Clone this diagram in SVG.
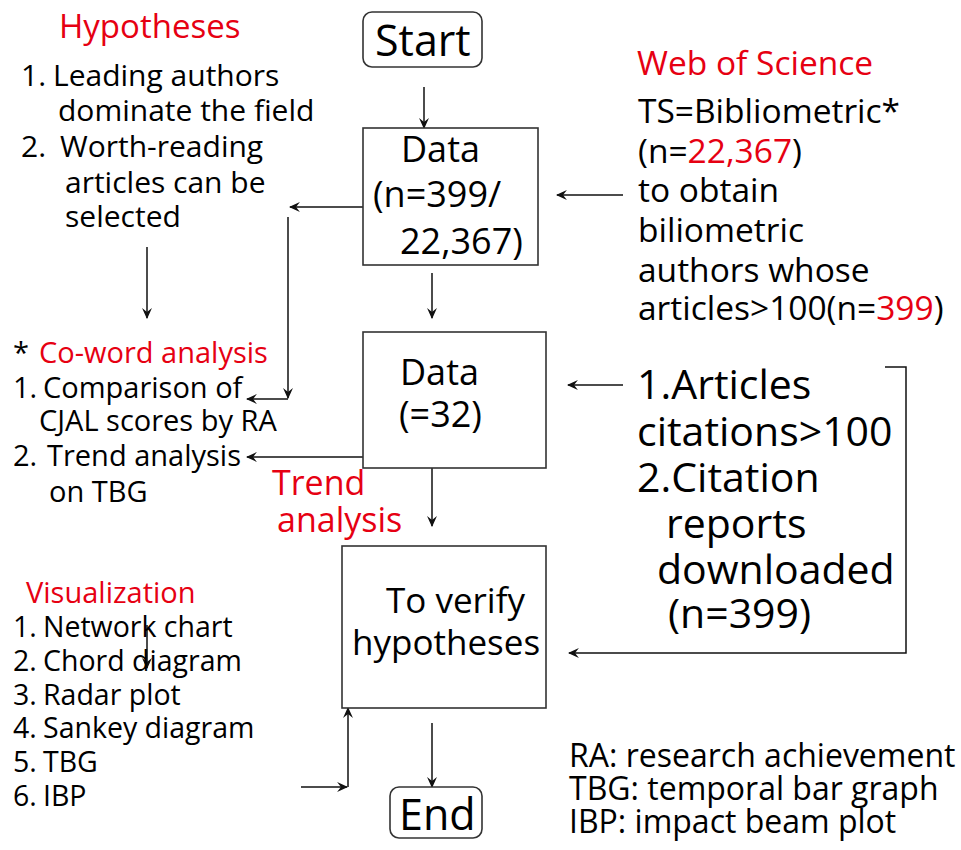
<svg xmlns="http://www.w3.org/2000/svg" width="961" height="850" viewBox="0 0 961 850">
<defs>
<style>
text{font-family:"Open Sans","Noto Sans","DejaVu Sans",sans-serif;fill:#000}
.red{fill:#e60012}
.box{fill:#fff;stroke:#333;stroke-width:1.6}
.ln{fill:none;stroke:#111;stroke-width:1.5}
.arr{marker-end:url(#ah)}
</style>
<marker id="ah" viewBox="0 0 10 10" refX="9" refY="5" markerWidth="11" markerHeight="11" markerUnits="userSpaceOnUse" orient="auto">
<path d="M0,0.5 L10,5 L0,9.5 L3.5,5 z" fill="#111"/>
</marker>
</defs>
<rect width="961" height="850" fill="#fff"/>

<g id="connectors">
<path class="ln arr" d="M424,87 V128"/>
<path class="ln arr" d="M363,207 H290"/>
<path class="ln arr" d="M288,217 V398"/>
<path class="ln arr" d="M288,399 H247"/>
<path class="ln arr" d="M147,247 V318"/>
<path class="ln arr" d="M623,195 H557"/>
<path class="ln arr" d="M432,273 V318"/>
<path class="ln arr" d="M623,385 H568"/>
<path class="ln arr" d="M363,457 H247"/>
<path class="ln arr" d="M432,468 V526"/>
<path class="ln arr" d="M885,367 H906 V653 H569"/>
<path class="ln arr" d="M432,723 V787"/>
<path class="ln arr" d="M301,787 H347"/>
<path class="ln arr" d="M348,787 V708"/>
<path class="ln arr" d="M147,625 V668"/>
</g>

<g id="start">
<rect class="box" x="363" y="12" width="119" height="55" rx="9"/>
<text x="375" y="56" font-size="43">Start</text>
</g>

<g id="data1">
<rect class="box" x="363" y="128" width="175" height="137"/>
<text font-size="36"><tspan x="401" y="162">Data</tspan><tspan x="373" y="207">(n=399/</tspan><tspan x="400" y="254">22,367)</tspan></text>
</g>

<g id="data2">
<rect class="box" x="363" y="332" width="183" height="136"/>
<text font-size="36"><tspan x="400" y="385">Data</tspan><tspan x="399" y="427">(=32)</tspan></text>
</g>

<g id="verify">
<rect class="box" x="342" y="546" width="204" height="162"/>
<text font-size="35"><tspan x="386" y="613">To verify</tspan><tspan x="352" y="655">hypotheses</tspan></text>
</g>

<g id="end">
<rect class="box" x="390" y="787" width="92" height="51" rx="9"/>
<text x="399" y="830" font-size="43">End</text>
</g>

<g id="hypotheses">
<text x="59" y="38" font-size="33" class="red">Hypotheses</text>
<text font-size="30"><tspan x="21" y="86">1.</tspan><tspan x="53" y="86">Leading authors</tspan><tspan x="58" y="121">dominate the field</tspan><tspan x="21" y="157">2.</tspan><tspan x="60" y="157">Worth-reading</tspan><tspan x="65" y="193">articles can be</tspan><tspan x="65" y="227">selected</tspan></text>
</g>

<g id="wos">
<text x="637" y="75" font-size="33.5" class="red">Web of Science</text>
<text font-size="33.5"><tspan x="638" y="123">TS=Bibliometric*</tspan><tspan x="638" y="163">(n=<tspan class="red">22,367</tspan>)</tspan><tspan x="638" y="202">to obtain</tspan><tspan x="638" y="242">biliometric</tspan><tspan x="638" y="282">authors whose</tspan><tspan x="638" y="320">articles&gt;100(n=<tspan class="red">399</tspan>)</tspan></text>
</g>

<g id="coword">
<text font-size="29"><tspan x="13" y="363">*</tspan><tspan x="39" y="363" class="red">Co-word analysis</tspan><tspan x="13" y="398">1.</tspan><tspan x="43" y="398">Comparison of</tspan><tspan x="39" y="431">CJAL scores by RA</tspan><tspan x="13" y="466">2.</tspan><tspan x="47" y="466">Trend analysis</tspan><tspan x="49" y="502">on TBG</tspan></text>
</g>

<g id="trend">
<text font-size="34" class="red"><tspan x="272" y="495">Trend</tspan><tspan x="277" y="532">analysis</tspan></text>
</g>

<g id="citations">
<text font-size="41"><tspan x="637" y="399">1.Articles</tspan><tspan x="637" y="446">citations&gt;100</tspan><tspan x="637" y="492">2.Citation</tspan><tspan x="666" y="538">reports</tspan><tspan x="657" y="584">downloaded</tspan><tspan x="668" y="628">(n=399)</tspan></text>
</g>

<g id="visualization">
<text x="26" y="603" font-size="29" class="red">Visualization</text>
<text font-size="28.5"><tspan x="13" y="637">1.</tspan><tspan x="43" y="637">Network chart</tspan><tspan x="13" y="671">2.</tspan><tspan x="43" y="671">Chord diagram</tspan><tspan x="13" y="705">3.</tspan><tspan x="43" y="705">Radar plot</tspan><tspan x="13" y="738">4.</tspan><tspan x="43" y="738">Sankey diagram</tspan><tspan x="13" y="772">5.</tspan><tspan x="43" y="772">TBG</tspan><tspan x="13" y="806">6.</tspan><tspan x="43" y="806">IBP</tspan></text>
</g>

<g id="legend">
<text font-size="32"><tspan x="569" y="767">RA: research achievement</tspan><tspan x="569" y="800">TBG: temporal bar graph</tspan><tspan x="569" y="833">IBP: impact beam plot</tspan></text>
</g>
</svg>
